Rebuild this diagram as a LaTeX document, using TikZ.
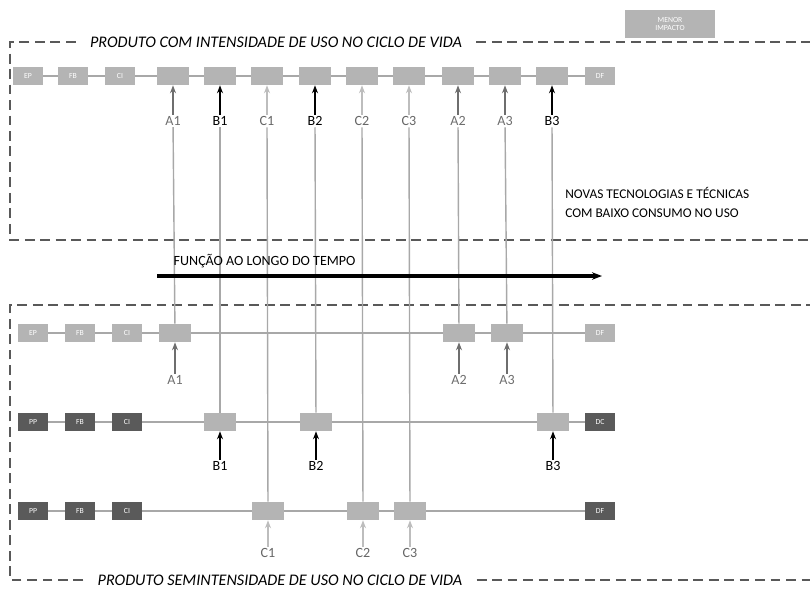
\documentclass[tikz,border=0pt]{standalone}
\usepackage{fontspec}
\setmainfont{Carlito}
\usepackage{tikz}
\usetikzlibrary{arrows.meta, positioning}

\definecolor{boxlight}{HTML}{B4B4B4}
\definecolor{boxdark}{HTML}{5A5A5A}
\definecolor{linegray}{HTML}{A8A8A8}
\definecolor{agray}{HTML}{6E6E6E}
\definecolor{cgray}{HTML}{BDBDBD}

\begin{document}
\begin{tikzpicture}[
    x=0.025cm, y=-0.025cm,
    lightbox/.style={rectangle, fill=boxlight, minimum width=0.75cm, minimum height=0.45cm, inner sep=0pt, text=white, font=\fontsize{5.5}{6}\selectfont},
    darkbox/.style={lightbox, fill=boxdark},
    stagebox/.style={lightbox, minimum width=0.8cm},
    lbl/.style={font=\fontsize{10}{10}\selectfont, inner sep=1pt},
    arrowA/.style={-{Stealth[length=2mm]}, thick, agray},
    arrowB/.style={-{Stealth[length=2mm]}, thick, black},
    arrowC/.style={-{Stealth[length=2mm]}, thick, cgray},
    chain/.style={draw=linegray, line width=1pt},
    chainthick/.style={draw=linegray, line width=1.6pt},
    vline/.style={draw=linegray, line width=1pt},
    frame/.style={draw=black!65, line width=1.1pt, dash pattern=on 7pt off 4pt},
    title/.style={font=\fontsize{11.5}{12}\selectfont\itshape, inner sep=10pt},
    note/.style={font=\fontsize{9.5}{13.5}\selectfont, align=left, anchor=west, inner sep=0pt}
]
\useasboundingbox (0,0) rectangle (810,592);

% Legend
\node[lightbox, minimum width=2.25cm, minimum height=0.7cm, align=center] (legend) at (670,24) {MENOR\\IMPACTO};

% Upper frame
\node[title] (toptitle) at (276,42) {PRODUTO COM INTENSIDADE DE USO NO CICLO DE VIDA};
\draw[frame] (toptitle.east) -- (812,42);
\draw[frame] (toptitle.west) -- (10,42) -- (10,240) -- (812,240);

% Upper chain
\node[lightbox] (t1) at (28,76) {EP};
\node[lightbox] (t2) at (73,76) {FB};
\node[lightbox] (t3) at (120,76) {CI};
\node[stagebox] (ta1) at (173,76) {};
\node[stagebox] (tb1) at (220,76) {};
\node[stagebox] (tc1) at (267,76) {};
\node[stagebox] (tb2) at (315,76) {};
\node[stagebox] (tc2) at (362,76) {};
\node[stagebox] (tc3) at (409,76) {};
\node[stagebox] (ta2) at (458,76) {};
\node[stagebox] (ta3) at (505,76) {};
\node[stagebox] (tb3) at (552,76) {};
\node[lightbox] (t4) at (600,76) {DF};
\draw[chain] (t1) -- (t2) -- (t3) -- (ta1) -- (tb1) -- (tc1) -- (tb2) -- (tc2) -- (tc3) -- (ta2) -- (ta3) -- (tb3) -- (t4);

% Upper labels
\node[lbl, text=agray] (la1) at (173,121) {A1};
\node[lbl] (lb1) at (220,121) {B1};
\node[lbl, text=black!60] (lc1) at (267,121) {C1};
\node[lbl] (lb2) at (315,121) {B2};
\node[lbl, text=black!60] (lc2) at (362,121) {C2};
\node[lbl, text=black!60] (lc3) at (409,121) {C3};
\node[lbl, text=agray] (la2) at (458,121) {A2};
\node[lbl, text=agray] (la3) at (505,121) {A3};
\node[lbl] (lb3) at (552,121) {B3};

\draw[arrowA] (la1) -- (ta1);
\draw[arrowB] (lb1) -- (tb1);
\draw[arrowC] (lc1) -- (tc1);
\draw[arrowB] (lb2) -- (tb2);
\draw[arrowC] (lc2) -- (tc2);
\draw[arrowC] (lc3) -- (tc3);
\draw[arrowA] (la2) -- (ta2);
\draw[arrowA] (la3) -- (ta3);
\draw[arrowB] (lb3) -- (tb3);

% Note
\node[note] (novas) at (565,202) {NOVAS TECNOLOGIAS E TÉCNICAS\\COM BAIXO CONSUMO NO USO};

% Lower frame
\node[title] (bottitle) at (280,580) {PRODUTO SEMINTENSIDADE DE USO NO CICLO DE VIDA};
\draw[frame] (bottitle.east) -- (812,580);
\draw[frame] (bottitle.west) -- (10,580) -- (10,305) -- (812,305);

% Lower chain A
\node[lightbox] (a1) at (33,333) {EP};
\node[lightbox] (a2) at (80,333) {FB};
\node[lightbox] (a3) at (127,333) {CI};
\node[stagebox] (ba1) at (175,333) {};
\node[stagebox] (ba2) at (459,333) {};
\node[stagebox] (ba3) at (507,333) {};
\node[lightbox] (a4) at (600,333) {DF};

% Lower chain B
\node[darkbox] (b1) at (33,422) {PP};
\node[darkbox] (b2) at (80,422) {FB};
\node[darkbox] (b3) at (127,422) {CI};
\node[stagebox] (bb1) at (220,422) {};
\node[stagebox] (bb2) at (316,422) {};
\node[stagebox] (bb3) at (553,422) {};
\node[darkbox] (b4) at (600,422) {DC};

% Lower chain C
\node[darkbox] (c1) at (33,511) {PP};
\node[darkbox] (c2) at (80,511) {FB};
\node[darkbox] (c3) at (127,511) {CI};
\node[stagebox] (bc1) at (268,511) {};
\node[stagebox] (bc2) at (363,511) {};
\node[stagebox] (bc3) at (410,511) {};
\node[darkbox] (c4) at (600,511) {DF};

% Vertical links
\draw[vline] (la1) -- (ba1);
\draw[vline] (lb1) -- (bb1);
\draw[vline] (lc1) -- (bc1);
\draw[vline] (lb2) -- (bb2);
\draw[vline] (lc2) -- (bc2);
\draw[vline] (lc3) -- (bc3);
\draw[vline] (la2) -- (ba2);
\draw[vline] (la3) -- (ba3);
\draw[vline] (lb3) -- (bb3);

\draw[chainthick] (a1) -- (a2) -- (a3) -- (ba1) -- (ba2) -- (ba3) -- (a4);
\draw[chainthick] (b1) -- (b2) -- (b3) -- (bb1) -- (bb2) -- (bb3) -- (b4);
\draw[chainthick] (c1) -- (c2) -- (c3) -- (bc1) -- (bc2) -- (bc3) -- (c4);

% Time axis
\coordinate (tstart) at (157,276);
\coordinate (tend) at (602,276);
\draw[-{Stealth[length=2.5mm]}, line width=2.4pt] (tstart) -- (tend);
\node[font=\fontsize{10}{10}\selectfont, anchor=south west, inner sep=1pt] (tempo) at (172,270) {FUNÇÃO AO LONGO DO TEMPO};

% Lower labels
\node[lbl, text=agray] (da1) at (175,380) {A1};
\node[lbl, text=agray] (da2) at (459,380) {A2};
\node[lbl, text=agray] (da3) at (507,380) {A3};
\node[lbl] (db1) at (220,466) {B1};
\node[lbl] (db2) at (316,466) {B2};
\node[lbl] (db3) at (553,466) {B3};
\node[lbl, text=black!60] (dc1) at (268,553) {C1};
\node[lbl, text=black!60] (dc2) at (363,553) {C2};
\node[lbl, text=black!60] (dc3) at (410,553) {C3};

\draw[arrowA] (da1) -- (ba1);
\draw[arrowA] (da2) -- (ba2);
\draw[arrowA] (da3) -- (ba3);
\draw[arrowB] (db1) -- (bb1);
\draw[arrowB] (db2) -- (bb2);
\draw[arrowB] (db3) -- (bb3);
\draw[arrowC] (dc1) -- (bc1);
\draw[arrowC] (dc2) -- (bc2);
\draw[arrowC] (dc3) -- (bc3);

\end{tikzpicture}
\end{document}
